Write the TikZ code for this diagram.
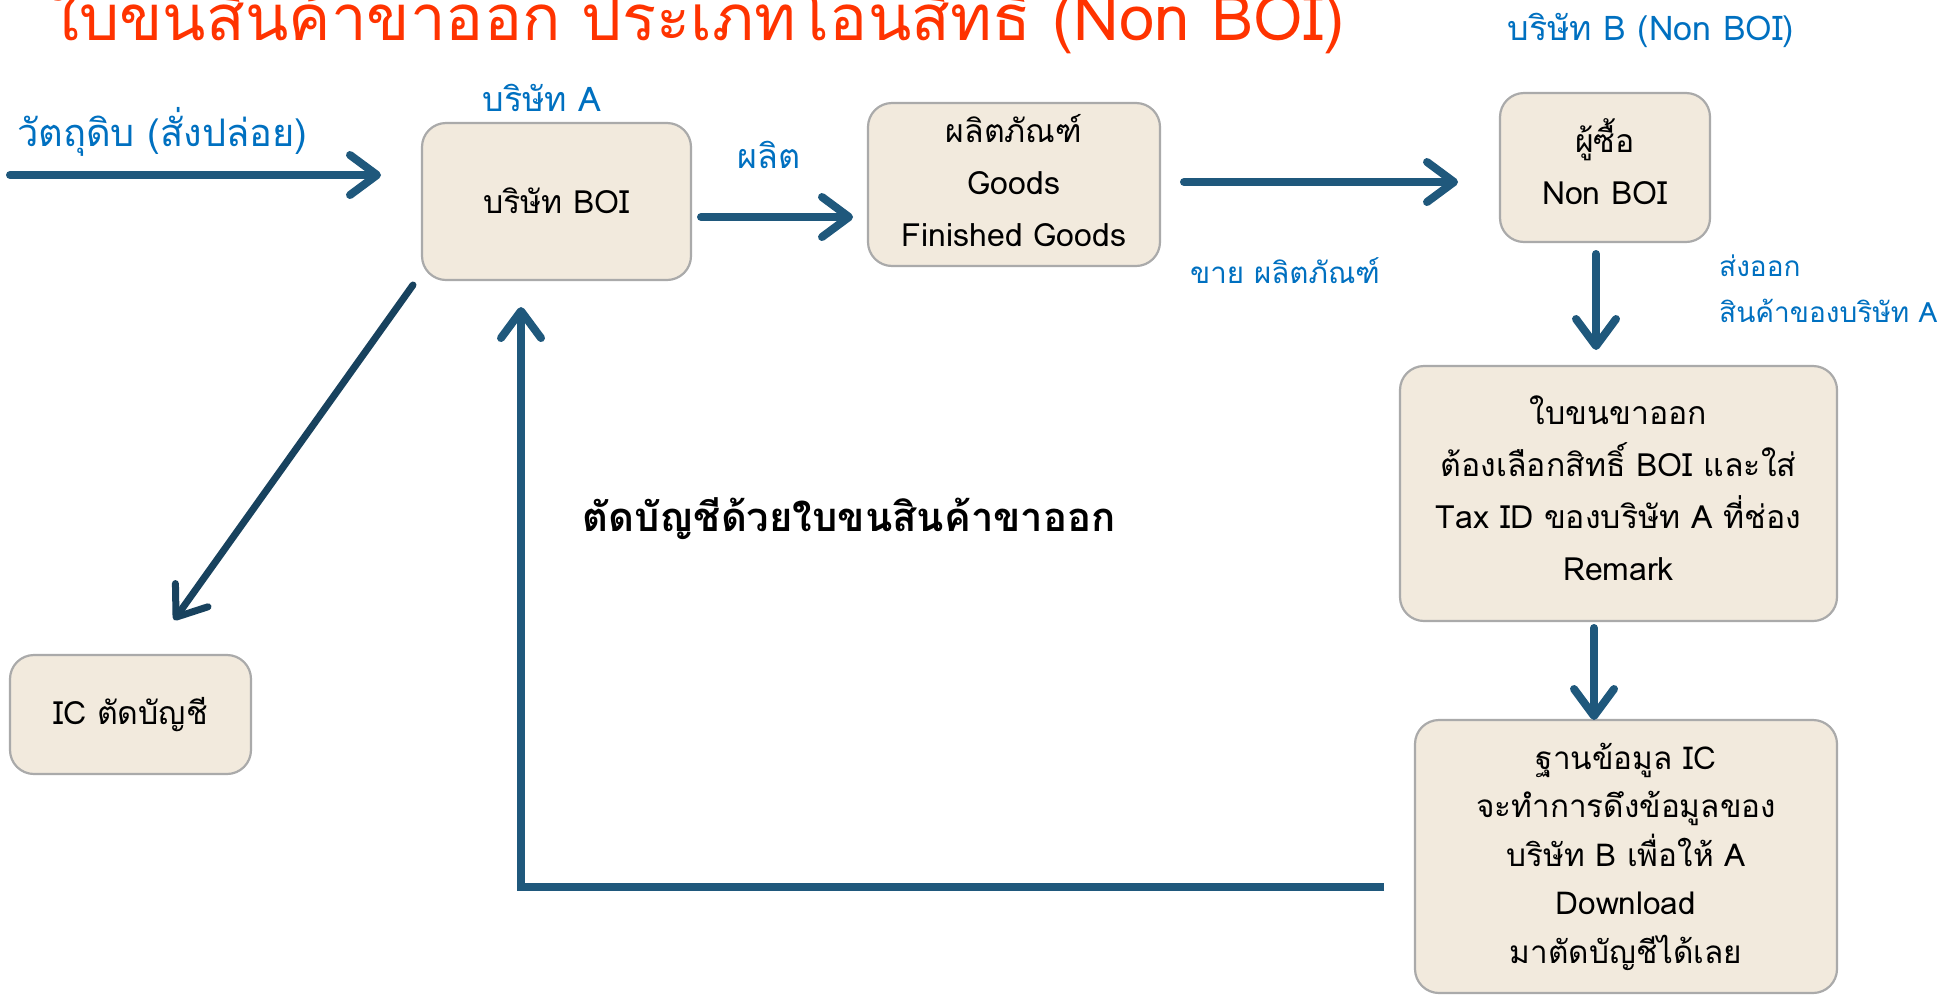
\documentclass[tikz,border=0pt]{standalone}
\usepackage{fontspec}
\setmainfont[Script=Thai]{Loma}
\usetikzlibrary{arrows.meta}
\definecolor{boxfill}{RGB}{242,234,221}
\definecolor{boxgray}{RGB}{170,170,170}
\definecolor{arrblue}{RGB}{31,88,124}
\definecolor{arrdark}{RGB}{24,66,94}
\definecolor{lblblue}{RGB}{0,112,192}
\definecolor{titlered}{RGB}{255,51,0}
\tikzset{
  box/.style={draw=boxgray, line width=2.2pt, fill=boxfill, rounded corners=24pt, inner sep=0pt},
  boxtext/.style={align=center, inner sep=0pt, font=\fontsize{32}{52}\selectfont},
  lbl/.style={text=lblblue, inner sep=0pt, font=\fontsize{34}{46}\selectfont},
  arr/.style={draw=arrblue, line width=8pt, line cap=round, line join=round,
    -{Straight Barb[length=27pt,width=40pt,round]}},
}
\begin{document}
\begin{tikzpicture}[x=1pt,y=-1pt]
\useasboundingbox (0,0) rectangle (1946,994);
\clip (0,0) rectangle (1946,994);
% title
\node[anchor=base west, text=titlered, inner sep=0pt, font=\fontsize{63.5}{70}\selectfont] (title) at (48,40) {ใบขนสินค้าขาออก ประเภทโอนสิทธิ (Non BOI)};
% boxes
\node[box, minimum width=269pt, minimum height=157pt] (boi) at (556.5,201.5) {};
\node[boxtext] (boiT) at ([yshift=1pt]boi.center) {บริษัท BOI};
\node[box, minimum width=292pt, minimum height=163pt] (goods) at (1014,184.5) {};
\node[boxtext] (goodsT) at ([yshift=4pt]goods.center) {ผลิตภัณฑ์\\Goods\\Finished Goods};
\node[box, minimum width=210pt, minimum height=149pt] (buyer) at (1605,167.5) {};
\node[boxtext] (buyerT) at ([yshift=6pt]buyer.center) {ผู้ซื้อ\\Non BOI};
\node[box, minimum width=437pt, minimum height=255pt] (exp) at (1618.5,493.5) {};
\node[boxtext] (expT) at ([yshift=5pt]exp.center) {ใบขนขาออก\\ต้องเลือกสิทธิ์ BOI และใส่\\Tax ID ของบริษัท A ที่ช่อง\\Remark};
\node[box, minimum width=422pt, minimum height=273pt] (db) at (1626,856.5) {};
\node[boxtext, font=\fontsize{31.5}{48.5}\selectfont] (dbT) at (db.center) {ฐานข้อมูล IC\\จะทำการดึงข้อมูลของ\\บริษัท B เพื่อให้ A\\Download\\มาตัดบัญชีได้เลย};
\node[box, minimum width=241pt, minimum height=119pt] (ic) at (130.5,714.5) {};
\node[boxtext] (icT) at (ic.center) {IC ตัดบัญชี};
% labels
\node[lbl, anchor=west, font=\fontsize{38}{46}\selectfont] (raw) at (17,132) {วัตถุดิบ (สั่งปล่อย)};
\node[lbl] (compA) at (542,98) {บริษัท A};
\node[lbl] (compB) at (1651,30) {บริษัท B (Non BOI)};
\node[lbl] (make) at (769,155) {ผลิต};
\node[lbl, font=\fontsize{29.5}{44}\selectfont] (sell) at (1285,271) {ขาย ผลิตภัณฑ์};
\node[lbl, anchor=north west, align=left, font=\fontsize{28}{46}\selectfont] (ship) at (1719,255) {ส่งออก\\สินค้าของบริษัท A};
\node[inner sep=0pt, font=\bfseries\fontsize{40}{44}\selectfont] (cut) at (849,519) {ตัดบัญชีด้วยใบขนสินค้าขาออก};
% connectors
\coordinate (inS) at (10,175);
\coordinate (inE) at (381,175);
\draw[arr] (inS) -- (inE);
\coordinate (mkS) at (701,217);
\coordinate (mkE) at (853,217);
\draw[arr] (mkS) -- (mkE);
\coordinate (slS) at (1184,182);
\coordinate (slE) at (1458,182);
\draw[arr] (slS) -- (slE);
\coordinate (d1S) at (1596,254);
\coordinate (d1E) at (1596,350);
\draw[arr] (d1S) -- (d1E);
\coordinate (d2S) at (1594,628);
\coordinate (d2E) at (1594,720);
\draw[arr] (d2S) -- (d2E);
\coordinate (rtS) at (1384,887);
\coordinate (rtC) at (521,887);
\coordinate (rtE) at (521,307);
\draw[arr, line cap=butt, line join=miter] (rtS) -- (rtC) -- (rtE);
\coordinate (dgS) at (413,285);
\coordinate (dgE) at (174,620);
\draw[arr, draw=arrdark, line width=7pt] (dgS) -- (dgE);
\end{tikzpicture}
\end{document}
